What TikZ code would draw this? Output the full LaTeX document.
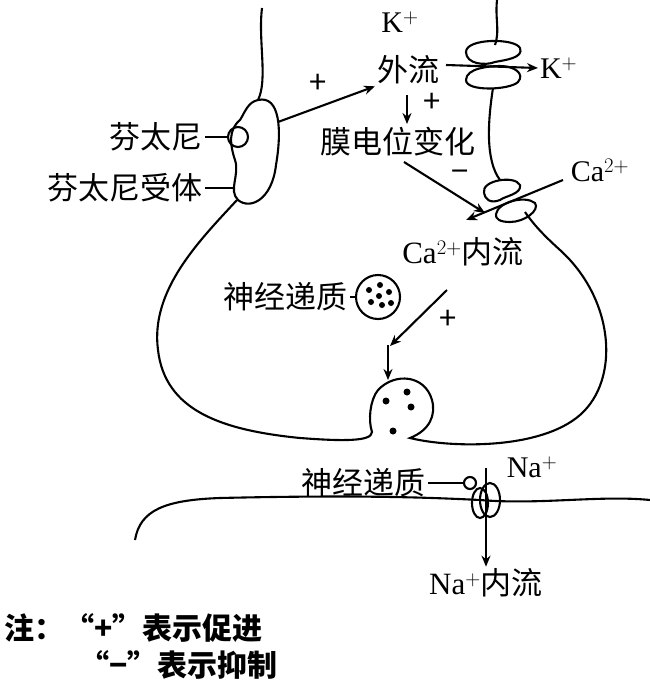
\documentclass[tikz,border=0pt]{standalone}
\usepackage{fontspec}
\usetikzlibrary{arrows.meta}
\setmainfont{Liberation Serif}
\newfontfamily\cjk{Noto Sans CJK SC}
\begin{document}
\begin{tikzpicture}[x=1pt,y=-1pt,line width=2.1pt,
  lab/.style={font=\fontsize{31}{33}\selectfont\cjk,inner sep=1pt},
  rom/.style={font=\fontsize{30}{31}\selectfont,inner sep=1pt},
  arr/.style={-{Stealth[length=11pt,width=9pt]},line width=2.1pt}]
\useasboundingbox (0,0) rectangle (650,691);
% presynaptic cell
\draw (262,8) .. controls (258,40) and (268,80) .. (258,100);
\draw (258,100) .. controls (280,95) and (282,130) .. (276,165) .. controls (272,200) and (250,210) .. (238,200) .. controls (228,190) and (240,175) .. (235,160) .. controls (230,145) and (228,130) .. (240,120) .. controls (245,112) and (248,102) .. (258,100);
\draw (237,200) .. controls (200,240) and (150,290) .. (158,350) .. controls (165,410) and (220,430) .. (300,438) .. controls (340,441) and (372,442) .. (372,432) .. controls (368,420) and (370,400) .. (378,390) .. controls (395,372) and (425,375) .. (432,400) .. controls (436,415) and (430,430) .. (410,438) .. controls (450,448) and (540,450) .. (580,415) .. controls (620,380) and (615,300) .. (560,250) .. controls (540,232) and (532,222) .. (525,212);
\draw (497,0) .. controls (495,20) and (500,30) .. (495,45);
\draw (493,88) .. controls (488,120) and (485,160) .. (500,180);
% K channel
\draw (466,52) .. controls (466,38) and (515,38) .. (520,48) .. controls (524,58) and (505,60) .. (495,62) .. controls (485,66) and (466,64) .. (466,52);
\draw (466,80) .. controls (466,68) and (490,66) .. (500,66) .. controls (515,66) and (525,74) .. (518,82) .. controls (510,90) and (466,92) .. (466,80);
% Ca channel
\draw (484,193) .. controls (481,180) and (515,175) .. (520,185) .. controls (522,194) and (505,196) .. (500,200) .. controls (490,204) and (485,199) .. (484,193);
\draw (496,214) .. controls (498,202) and (525,195) .. (535,203) .. controls (540,210) and (525,222) .. (510,222) .. controls (500,222) and (495,219) .. (496,214);
% ligand
\node[lab,anchor=east] (fen) at (205,137) {芬太尼};
\draw (238,137) circle (10pt);
\draw (fen.east) -- (228,137);
\node[lab,anchor=east] (rec) at (205,188) {芬太尼受体};
\draw (rec.east) -- (234,188);
% K+ efflux
\node[rom] (k1) at (400,22) {K$^{+}$};
\node[lab] (out) at (408,70) {外流};
\draw[arr] (278,122) -- (out.south west);
\node[lab] at (318,84) {+};
\node[rom,anchor=west] (k2) at (538,68) {K$^{+}$};
\draw[arr] (446,65) -- (k2.west);
\node[lab] (mem) at (398,142) {膜电位变化};
\draw[arr] (407,95) -- (407,124);
\node[lab] at (432,103) {+};
\draw[arr] (404,162) -- (485,213);
\node[lab] at (460,176) {−};
\node[rom] (ca1) at (600,170) {Ca$^{2+}$};
\draw[arr] (563,180) -- (466,220);
\node[lab] (cain) at (463,252) {\fontspec{Liberation Serif}Ca$^{2+}$\cjk 内流};
% vesicle
\node[lab,anchor=east] (nt1) at (350,297) {神经递质};
\node[circle,draw,minimum size=44pt,inner sep=0pt] (ves) at (378,297) {};
\draw (nt1.east) -- (ves.west);
\foreach \p in {(369,290),(380,285),(389,292),(371,302),(382,305),(391,303),(379,296)} \fill \p circle (3pt);
\draw[arr] (388,345) -- (388,380);
\draw[arr] (447,290) -- (390,346);
\node[lab] at (448,320) {+};
\foreach \p in {(386,401),(407,392),(411,407),(393,431)} \fill \p circle (3.5pt);
% postsynaptic
\draw (135,540) .. controls (140,510) and (165,500) .. (220,498) .. controls (350,495) and (420,497) .. (480,500) .. controls (540,505) and (600,495) .. (650,500);
\draw (480,503) ellipse (8pt and 15pt);
\draw (490,500) ellipse (10pt and 17pt);
\node[lab,anchor=east] (nt2) at (428,483) {神经递质};
\draw (470,483) circle (6pt);
\draw (nt2.east) -- (464,483);
\node[rom] (na1) at (532,467) {Na$^{+}$};
\node[lab] (nain) at (486,583) {\fontspec{Liberation Serif}Na$^{+}$\cjk 内流};
\draw[arr] (486,468) -- (nain.north);
% note
\node[font=\fontsize{30}{32}\selectfont\cjk\bfseries,anchor=west,inner sep=0pt] at (3,628) {注：“+”表示促进};
\node[font=\fontsize{30}{32}\selectfont\cjk\bfseries,anchor=west,inner sep=0pt] at (78,665) {“−”表示抑制};
\end{tikzpicture}
\end{document}
